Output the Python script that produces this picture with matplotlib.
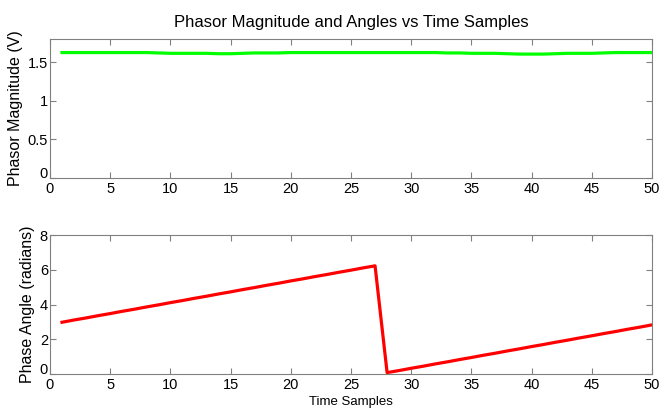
import matplotlib
matplotlib.use('Agg')
import matplotlib.pyplot as plt

plt.rcParams['font.family'] = ['Liberation Sans', 'DejaVu Sans']

samples = list(range(1, 51))
magnitude = [1.625, 1.625, 1.625, 1.625, 1.625, 1.625, 1.625, 1.625, 1.62, 1.615,
             1.615, 1.615, 1.615, 1.61, 1.61, 1.615, 1.62, 1.62, 1.62, 1.625,
             1.625, 1.625, 1.625, 1.625, 1.625, 1.625, 1.625, 1.625, 1.625, 1.625,
             1.625, 1.625, 1.62, 1.62, 1.615, 1.615, 1.615, 1.61, 1.605, 1.605,
             1.605, 1.61, 1.615, 1.615, 1.615, 1.62, 1.625, 1.625, 1.625, 1.625]
angle = [2.98, 3.11, 3.23, 3.36, 3.48, 3.61, 3.73, 3.86, 3.98, 4.11,
         4.23, 4.36, 4.48, 4.61, 4.73, 4.86, 4.98, 5.11, 5.23, 5.36,
         5.48, 5.61, 5.73, 5.86, 5.98, 6.11, 6.23, 0.08, 0.20, 0.33,
         0.45, 0.58, 0.70, 0.83, 0.95, 1.08, 1.20, 1.33, 1.45, 1.58,
         1.70, 1.83, 1.95, 2.08, 2.20, 2.33, 2.45, 2.58, 2.70, 2.83]

fig = plt.figure(figsize=(6.7, 4.11), dpi=100)
ax1 = fig.add_axes([0.0746, 0.567, 0.8985, 0.338])
ax2 = fig.add_axes([0.0746, 0.090, 0.8985, 0.338])

ax1.plot(samples, magnitude, color='#00ff00', linewidth=2.3)
ax2.plot(samples, angle, color='#ff0000', linewidth=2.3)

ax1.set_ylim(0, 1.8)
ax1.set_yticks([0, 0.5, 1, 1.5])
ax1.set_yticklabels(['0', '0.5', '1', '1.5'])
ax2.set_ylim(0, 8)
ax2.set_yticks([0, 2, 4, 6, 8])

for ax in (ax1, ax2):
    ax.set_xlim(0, 50)
    ax.set_xticks(range(0, 51, 5))
    ax.tick_params(direction='in', top=True, right=True, length=4,
                   color='#808080', labelsize=10.5)
    ax.tick_params(axis='x', pad=3)
    ax.tick_params(axis='y', pad=1.5)
    ax.get_yticklabels()[0].set_verticalalignment('baseline')
    for s in ax.spines.values():
        s.set_color('#808080')
        s.set_linewidth(0.8)

ax1.set_title('Phasor Magnitude and Angles vs Time Samples', fontsize=12, pad=9)
ax1.set_ylabel('Phasor Magnitude (V)', fontsize=11.5, labelpad=3)
ax2.set_ylabel('Phase Angle (radians)', fontsize=11.5, labelpad=3)
ax2.set_xlabel('Time Samples', fontsize=9.5, labelpad=3)

fig.savefig('out.png', dpi=100)
